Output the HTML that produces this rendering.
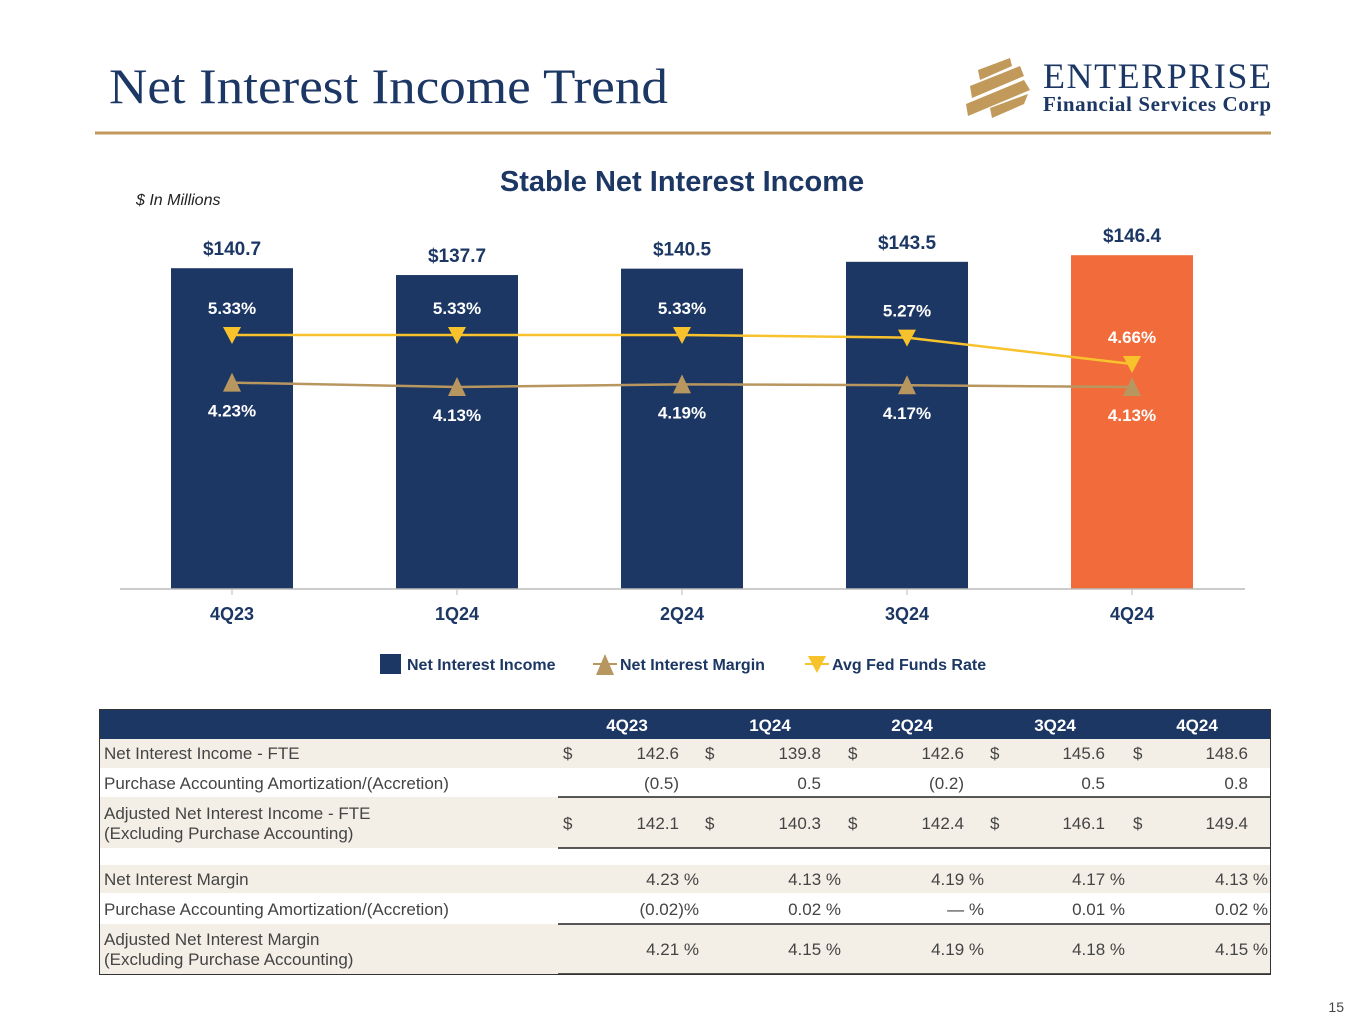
<!DOCTYPE html>
<html><head><meta charset="utf-8"><style>
html,body{margin:0;padding:0;background:#fff;}
svg{display:block;font-family:"Liberation Sans",sans-serif;}
</style></head><body>
<svg width="1365" height="1024" viewBox="0 0 1365 1024">
<text x="109" y="103" font-family="Liberation Serif,serif" font-size="50" fill="#1c3764" textLength="559" lengthAdjust="spacingAndGlyphs">Net Interest Income Trend</text>
<line x1="95" y1="133" x2="1271" y2="133" stroke="#c19a5b" stroke-width="3"/>
<g>
<g fill="#c19a5b">
<polygon points="978,70 1010,58 1012,66 980,80"/>
<polygon points="970,86 1020,66 1024,76 972,98"/>
<polygon points="966,104 1024,80 1030,90 968,116"/>
<polygon points="990,108 1028,94 1024,104 992,118"/>
</g>
<text x="1043" y="88" font-family="Liberation Serif,serif" font-size="36" fill="#1c3764" textLength="228">ENTERPRISE</text>
<text x="1043" y="111" font-family="Liberation Serif,serif" font-size="21" font-weight="bold" fill="#1c3764" textLength="228">Financial Services Corp</text>
</g>
<text x="682" y="191" text-anchor="middle" font-size="29" font-weight="bold" fill="#1c3764">Stable Net Interest Income</text>
<text x="136" y="205" font-size="16" font-style="italic" fill="#222">$ In Millions</text>
<g id="chart"></g>
<g id="legend" font-size="16" font-weight="bold" fill="#1c3764">
<rect x="380" y="654" width="21" height="20" fill="#1c3764"/>
<text x="407" y="670">Net Interest Income</text>
<line x1="593" y1="664" x2="617" y2="664" stroke="#b89660" stroke-width="2"/>
<polygon points="605,654 596,675 614,675" fill="#b89660"/>
<text x="620" y="670">Net Interest Margin</text>
<line x1="805" y1="664" x2="829" y2="664" stroke="#f8c22c" stroke-width="2"/>
<polygon points="817,673 808,656 826,656" fill="#f8c22c"/>
<text x="832" y="670">Avg Fed Funds Rate</text>
</g>
<g id="table" font-size="17" fill="#444"></g>
<text x="1344" y="1012" text-anchor="end" font-size="14" fill="#444">15</text>
</svg>
<script>
const categories=["4Q23","1Q24","2Q24","3Q24","4Q24"];
const niiValues=[140.7,137.7,140.5,143.5,146.4];
const niiLabels=["$140.7","$137.7","$140.5","$143.5","$146.4"];
const nimValues=[4.23,4.13,4.19,4.17,4.13];
const fedValues=[5.33,5.33,5.33,5.27,4.66];
const NS="http://www.w3.org/2000/svg";
function mk(tag,attrs,parent,txt){const e=document.createElementNS(NS,tag);for(const k in attrs)e.setAttribute(k,attrs[k]);if(txt!==undefined)e.textContent=txt;parent.appendChild(e);return e;}
const chart=document.getElementById('chart');
const xC=i=>232+i*225;
const yBar=v=>589-v*2.28;
const yPct=v=>335-(v-5.33)*43.3;
const bw=122;
categories.forEach((c,i)=>{
 const r=mk('rect',{x:xC(i)-bw/2,y:yBar(niiValues[i]),width:bw,height:589-yBar(niiValues[i]),fill:i===4?'#f26b3a':'#1c3764'},chart);
 
 
 const t=mk('text',{x:xC(i),y:yBar(niiValues[i])-13,'text-anchor':'middle','font-size':19,'font-weight':'bold',fill:'#1c3764'},chart,niiLabels[i]);
 
 
 const xl=mk('text',{x:xC(i),y:620,'text-anchor':'middle','font-size':18,'font-weight':'bold',fill:'#1c3764'},chart,c);
 
 
 mk('line',{x1:xC(i),y1:589,x2:xC(i),y2:595,stroke:'#bbb'},chart);
});
const ax=mk('line',{x1:120,y1:589,x2:1245,y2:589,stroke:'#bbb','stroke-width':1.5},chart);


const nimL=mk('polyline',{points:nimValues.map((v,i)=>xC(i)+','+yPct(v)).join(' '),fill:'none',stroke:'#b89660','stroke-width':2.5},chart);


const fedL=mk('polyline',{points:fedValues.map((v,i)=>xC(i)+','+yPct(v)).join(' '),fill:'none',stroke:'#f8c22c','stroke-width':2.5},chart);


categories.forEach((c,i)=>{
 const x=xC(i),y1=yPct(nimValues[i]),y2=yPct(fedValues[i]);
 const m1=mk('polygon',{points:`${x},${y1-10} ${x-9},${y1+9} ${x+9},${y1+9}`,fill:'#b89660'},chart);
 
 
 const m2=mk('polygon',{points:`${x},${y2+9} ${x-9},${y2-8} ${x+9},${y2-8}`,fill:'#f8c22c'},chart);
 
 
 const l1=mk('text',{x:x,y:y1+34,'text-anchor':'middle','font-size':17,'font-weight':'bold',fill:'#fff'},chart,nimValues[i].toFixed(2)+'%');
 
 
 const l2=mk('text',{x:x,y:y2-21,'text-anchor':'middle','font-size':17,'font-weight':'bold',fill:'#fff'},chart,fedValues[i].toFixed(2)+'%');
 
 
});
const tb=document.getElementById('table');
const bg=[[739,29,'#f4efe6'],[797,51,'#f4efe6'],[865,28,'#f4efe6'],[924,50,'#f4efe6']];
bg.forEach(b=>mk('rect',{x:100,y:b[0],width:1170,height:b[1],fill:b[2]},tb));
const hd=mk('rect',{x:99,y:709,width:1172,height:30,fill:'#1c3764'},tb);


const cx=[627,770,912,1055,1197],dx=[563,705,848,990,1133],vx=[679,821,964,1105,1248];
categories.forEach((c,i)=>mk('text',{x:cx[i],y:731,'text-anchor':'middle','font-weight':'bold',fill:'#fff'},tb,c));
const rows=[
 [759,['Net Interest Income - FTE'],true,['142.6','139.8','142.6','145.6','148.6']],
 [789,['Purchase Accounting Amortization/(Accretion)'],false,['(0.5)','0.5','(0.2)','0.5','0.8']],
 [829,['Adjusted Net Interest Income - FTE','(Excluding Purchase Accounting)'],true,['142.1','140.3','142.4','146.1','149.4']],
 [885,['Net Interest Margin'],false,['4.23 %','4.13 %','4.19 %','4.17 %','4.13 %']],
 [915,['Purchase Accounting Amortization/(Accretion)'],false,['(0.02)%','0.02 %','— %','0.01 %','0.02 %']],
 [955,['Adjusted Net Interest Margin','(Excluding Purchase Accounting)'],false,['4.21 %','4.15 %','4.19 %','4.18 %','4.15 %']]
];
rows.forEach((r,ri)=>{
 const g=mk('g',{},tb);
 
 
 if(r[1].length===1) mk('text',{x:104,y:r[0]},g,r[1][0]);
 else {mk('text',{x:104,y:r[0]-10},g,r[1][0]);mk('text',{x:104,y:r[0]+10},g,r[1][1]);}
 r[3].forEach((v,i)=>{
  if(r[2]) mk('text',{x:dx[i],y:r[0]},g,'$');
  const pct=v.endsWith('%');
  mk('text',{x:pct?vx[i]+20:vx[i],y:r[0],'text-anchor':'end'},g,v);
 });
});
[797,848,924,974].forEach(y=>mk('line',{x1:558,y1:y,x2:1270,y2:y,stroke:'#222','stroke-width':1.5},tb));
mk('rect',{x:99.5,y:709.5,width:1171,height:265,fill:'none',stroke:'#333','stroke-width':1},tb);
</script>
</body></html>
